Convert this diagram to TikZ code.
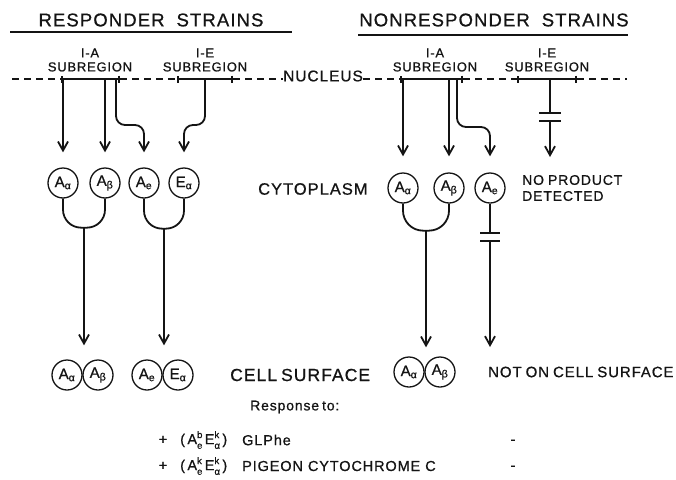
\documentclass[tikz,border=0pt]{standalone}
\usepackage{fontspec}
\setmainfont{Liberation Sans}
\usetikzlibrary{
  arrows.meta,
  calc,
  positioning
}
\definecolor{ink}{HTML}{141414}
\newcommand{\setfs}[1]{\fontsize{#1}{#1}\selectfont}
\newcommand{\wide}{\addfontfeatures{LetterSpace=6,FakeBold=0.8}}
\newcommand{\chain}[3]{#1\rlap{\raisebox{0.8ex}{\setfs{9.5}#2}}\raisebox{-0.6ex}{\setfs{9.5}#3}}
\tikzset{
  heading/.style={font=\setfs{18.5}\wide, text=ink, inner sep=0pt},
  region label/.style={font=\setfs{13}\wide, text=ink, align=center, inner sep=0pt},
  compartment/.style={font=\setfs{16.5}\wide, text=ink, inner sep=0pt, anchor=west},
  note/.style={font=\setfs{14}\wide, text=ink, inner sep=0pt, anchor=west, align=left},
  table text/.style={font=\setfs{14.5}\wide, text=ink, inner sep=0pt},
  chainnode/.style={
    circle,
    draw=ink,
    line width=1.3pt,
    minimum size=30pt,
    inner sep=0pt,
    text=ink,
    font=\setfs{15}\addfontfeatures{FakeBold=0.8}
  },
  nucleus/.style={draw=ink, line width=1.6pt, dash pattern=on 7pt off 5pt},
  region/.style={{Bar[width=7pt]}-{Bar[width=7pt]}, draw=ink, line width=2pt},
  link/.style={draw=ink, line width=1.8pt},
  flow/.style={-{Straight Barb[length=9pt,width=10pt]}, draw=ink, line width=1.8pt},
  underline/.style={draw=ink, line width=1.8pt}
}
\begin{document}
\begin{tikzpicture}[x=1pt,y=-1pt]
  \useasboundingbox (0,0) rectangle (676,479);

  % Headings
  \node[heading] (resp) at (151,20) {RESPONDER\hspace{12pt}STRAINS};
  \node[heading] (nonresp) at (494,20) {NONRESPONDER\hspace{12pt}STRAINS};
  \draw[underline] (10,32) -- (292,32);
  \draw[underline] (358,35) -- (628,35);

  % Nucleus line and subregions
  \coordinate (dL) at (12,79);
  \coordinate (dR) at (627,79);
  \coordinate (rA1) at (61,79);
  \coordinate (rA2) at (120,79);
  \coordinate (rE1) at (177,79);
  \coordinate (rE2) at (233,79);
  \coordinate (nA1) at (400,79);
  \coordinate (nA2) at (463,79);
  \coordinate (nE1) at (517,79);
  \coordinate (nE2) at (577,79);
  \node[compartment, font=\setfs{15.5}\wide] (nucleus) at (283,76) {NUCLEUS};
  \draw[nucleus] (dL) -- (rA1);
  \draw[nucleus] (rA2) -- (rE1);
  \draw[nucleus] (rE2) -- (nucleus.west |- rE2);
  \draw[nucleus] (nucleus.east |- nA1) -- (nA1);
  \draw[nucleus] (nA2) -- (nE1);
  \draw[nucleus] (nE2) -- (dR);
  \draw[region] (rA1) -- (rA2);
  \draw[region] (rE1) -- (rE2);
  \draw[region] (nA1) -- (nA2);
  \draw[region] (nE1) -- (nE2);
  \node[region label] (rIA) at (90,60) {I-A\\[1pt]SUBREGION};
  \node[region label] (rIE) at (205,60) {I-E\\[1pt]SUBREGION};
  \node[region label] (nIA) at (435,60) {I-A\\[1pt]SUBREGION};
  \node[region label] (nIE) at (547,60) {I-E\\[1pt]SUBREGION};

  % Cytoplasm chains
  \node[chainnode] (raa) at (63,183) {A\textsubscript{α}};
  \node[chainnode] (rab) at (105,183) {A\textsubscript{β}};
  \node[chainnode] (rae) at (144,183) {A\textsubscript{e}};
  \node[chainnode] (rea) at (184,183) {E\textsubscript{α}};
  \node[chainnode] (naa) at (403,188) {A\textsubscript{α}};
  \node[chainnode] (nab) at (449,188) {A\textsubscript{β}};
  \node[chainnode] (nae) at (490,188) {A\textsubscript{e}};
  \node[compartment] (cyto) at (258,189) {CYTOPLASM};
  \node[note] (noprod) at (522,188) {NO\hspace{4pt}PRODUCT\\[2pt]DETECTED};

  % Transcription arrows
  \draw[flow, shorten >=15pt] (raa.north |- rA1) -- (raa.north);
  \draw[flow, shorten >=15pt] (rab.north |- rA1) -- (rab.north);
  \draw[flow, rounded corners=9pt] ([xshift=-4pt]rA2) |- (rae.north |- 0,125)
    -- ([yshift=15pt]rae.north);
  \draw[flow, rounded corners=9pt] ($(rE1)!0.5!(rE2)$) |- (rea.north |- 0,125)
    -- ([yshift=15pt]rea.north);
  \draw[flow, shorten >=16pt] (naa.north |- nA1) -- (naa.north);
  \draw[flow, shorten >=16pt] (nab.north |- nA1) -- (nab.north);
  \draw[flow, rounded corners=9pt] ([xshift=-6pt]nA2) |- (nae.north |- 0,127)
    -- ([yshift=16pt]nae.north);
  \coordinate (capE) at (550,117);
  \draw[link] (capE |- nE1) -- ($(capE)+(0,-4)$);
  \draw[link] ($(capE)+(-11,-4)$) -- ++(22,0);
  \draw[link] ($(capE)+(-11,4)$) -- ++(22,0);
  \draw[flow] ($(capE)+(0,4)$) -- ++(0,36);

  % Chain assembly
  \coordinate (jr1) at ($(raa.south)!0.5!(rab.south)+(0,29)$);
  \coordinate (jr2) at ($(rae.south)!0.5!(rea.south)+(0,30)$);
  \coordinate (jn1) at ($(naa.south)!0.5!(nab.south)+(0,27)$);
  \draw[link, rounded corners=18pt] (raa.south) -- (raa.south |- jr1) -- (rab.south |- jr1) -- (rab.south);
  \draw[link, rounded corners=18pt] (rae.south) -- (rae.south |- jr2) -- (rea.south |- jr2) -- (rea.south);
  \draw[link, rounded corners=20pt] (naa.south) -- (naa.south |- jn1) -- (nab.south |- jn1) -- (nab.south);
  \coordinate (capA) at ($(nae.south)+(0,33)$);
  \draw[link] (nae.south) -- ($(capA)+(0,-4)$);
  \draw[link] ($(capA)+(-10,-4)$) -- ++(20,0);
  \draw[link] ($(capA)+(-10,4)$) -- ++(20,0);

  % Cell surface
  \node[chainnode] (rsa) at (67,375) {A\textsubscript{α}};
  \node[chainnode] (rsb) at (98,375) {A\textsubscript{β}};
  \node[chainnode] (rse) at (147,375) {A\textsubscript{e}};
  \node[chainnode] (rsea) at (178,375) {E\textsubscript{α}};
  \node[chainnode] (nsa) at (409,372) {A\textsubscript{α}};
  \node[chainnode] (nsb) at (440,372) {A\textsubscript{β}};
  \node[compartment, font=\setfs{17.5}\wide] (surface) at (230,375) {CELL\hspace{4pt}SURFACE};
  \node[note, font=\setfs{15}\wide] (notsurf) at (488,372) {NOT\hspace{4pt}ON\hspace{4pt}CELL\hspace{4pt}SURFACE};
  \draw[flow, shorten >=14pt] (jr1) -- (jr1 |- rsa.north);
  \draw[flow, shorten >=14pt] (jr2) -- (jr2 |- rse.north);
  \draw[flow, shorten >=9pt] (jn1) -- (jn1 |- nsa.north);
  \draw[flow] ($(capA)+(0,4)$) -- (nae.south |- 0,347);

  % Response table
  \node[table text, font=\setfs{14}\wide, anchor=west] (resto) at (250,407) {Response\hspace{3pt}to:};
  \node[table text] (plus1) at (163,440) {+};
  \node[table text] (plus2) at (163,466) {+};
  \node[table text, anchor=west] (hap1) at (180,440) {(\,\chain{A}{b}{e}\,\chain{E}{k}{α}\,)};
  \node[table text, anchor=west] (hap2) at (180,466) {(\,\chain{A}{k}{e}\,\chain{E}{k}{α}\,)};
  \node[table text, anchor=west] (ag1) at (242,440) {GLPhe};
  \node[table text, anchor=west] (ag2) at (242,466) {PIGEON\hspace{5pt}CYTOCHROME\hspace{5pt}C};
  \node[table text] (minus1) at (513,442) {-};
  \node[table text] (minus2) at (513,468) {-};
\end{tikzpicture}
\end{document}
